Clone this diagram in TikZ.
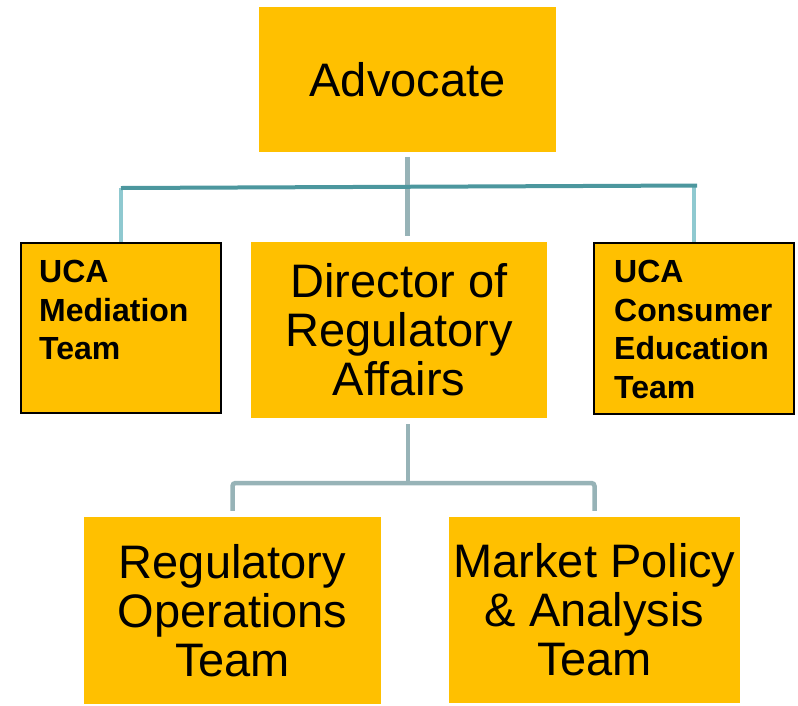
\documentclass[tikz,border=0pt]{standalone}
\usepackage{fontspec}
\setmainfont{Liberation Sans}
\usepackage{tikz}
\usetikzlibrary{positioning, calc}
\definecolor{boxgold}{HTML}{FFC000}
\definecolor{trunkgray}{HTML}{97B3B7}
\definecolor{barteal}{HTML}{4C979E}
\definecolor{droplight}{HTML}{8FC9D0}
\tikzset{
	bigbox/.style={fill=boxgold, inner sep=0pt, align=center,
		font=\fontsize{47}{49}\selectfont},
	smallbox/.style={fill=boxgold, draw=black, line width=2pt, inner sep=0pt,
		minimum width=200pt, minimum height=170pt},
	smalltext/.style={inner sep=0pt, align=left,
		font=\fontsize{32}{38.5}\selectfont\bfseries},
	trunk/.style={draw=trunkgray, line width=4.5pt},
	bar/.style={draw=barteal, line width=4pt},
	drop/.style={draw=droplight, line width=3.5pt}
}

\begin{document}
\begin{tikzpicture}[x=1pt, y=-1pt]
	\useasboundingbox (0,0) rectangle (798,705);
	
	% boxes
	\node[bigbox, minimum width=297pt, minimum height=145pt] (adv) at (407.5,79.5) {Advocate};
	\node[bigbox, minimum width=296pt, minimum height=176pt] (dir) at (399,330) {Director of\\Regulatory\\Affairs};
	\node[smallbox] (med) at (121,328) {};
	\node[smallbox, minimum height=171pt] (edu) at (694,328.5) {};
	\node[bigbox, minimum width=297pt, minimum height=187pt] (ops) at (232.5,610.5) {Regulatory\\Operations\\Team};
	\node[bigbox, minimum width=291pt, minimum height=186pt] (mkt) at (594.5,610) {Market Policy\\\& Analysis\\Team};
	
	\node[smalltext, below right=18pt and 19pt of med.north west] (medtext) {UCA\\Mediation\\Team};
	\node[smalltext, below right=18pt and 21pt of edu.north west] (edutext) {UCA\\Consumer\\Education\\Team};
	
	% upper connectors
	\coordinate (barw) at (121,188);
	\coordinate (bare) at (697,185.5);
	\draw[drop] (med.north |- barw) -- (med.north);
	\draw[drop] (edu.north |- bare) -- (edu.north);
	\draw[trunk, shorten <=5pt, shorten >=6pt] (adv.south) -- (adv.south |- dir.north);
	\draw[bar] (barw) -- (bare);
	
	% lower connectors
	\coordinate (fork) at (408,483);
	\draw[trunk, shorten <=6pt] (fork |- dir.south) -- (fork);
	\draw[trunk, rounded corners=3pt] ([yshift=6pt]ops.north) |- (fork) -| ([yshift=6pt]mkt.north);
\end{tikzpicture}
\end{document}
